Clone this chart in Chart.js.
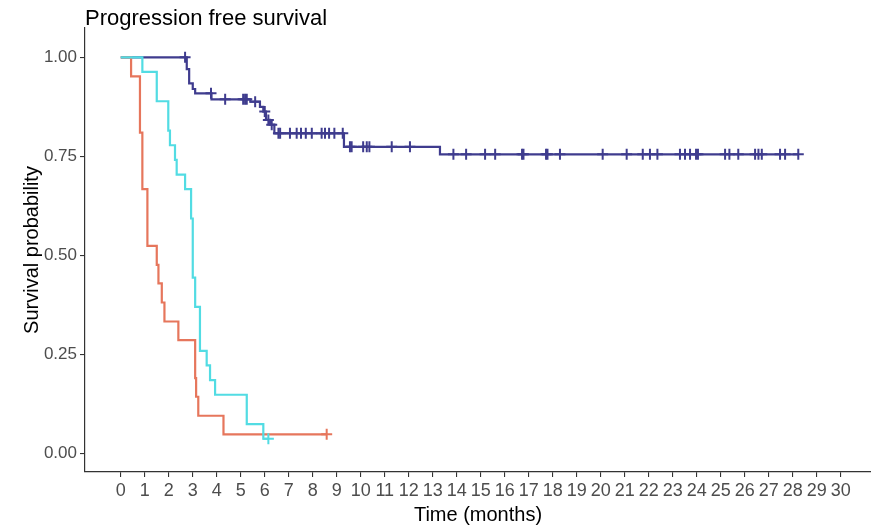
<!DOCTYPE html>
<html><head><meta charset="utf-8">
<script src="https://cdn.jsdelivr.net/npm/chart.js@4/dist/chart.umd.min.js"></script>
<style>html,body{margin:0;padding:0;background:#fff;}</style>
</head><body>
<canvas id="c" width="871" height="527"></canvas>
<script>
// ---- data ----
const xTicks = [0,1,2,3,4,5,6,7,8,9,10,11,12,13,14,15,16,17,18,19,20,21,22,23,24,25,26,27,28,29,30];
const yTicks = [0, 0.25, 0.5, 0.75, 1.0];

const navyTimes = [0, 2.75, 2.85, 3.00, 3.10, 3.78, 5.40, 5.80, 5.94, 6.05, 6.22, 6.40, 9.30, 13.30, 28.23];
const navySurv  = [1, 0.970, 0.934, 0.920, 0.909, 0.894, 0.888, 0.875, 0.863, 0.842, 0.830, 0.808, 0.774, 0.755, 0.755];
const navyCensor = [2.68, 3.76, 4.35, 5.10, 5.18, 5.25, 5.60, 6.00, 6.15, 6.29, 6.57, 6.64, 7.05, 7.33, 7.51, 7.71, 7.96,
  8.37, 8.51, 8.68, 8.90, 9.25, 9.55, 9.62, 10.10, 10.25, 10.36, 11.29, 12.05, 13.86, 14.39, 15.18, 15.60, 16.72, 16.78,
  17.72, 17.78, 18.30, 20.08, 21.08, 21.75, 22.05, 22.36, 23.30, 23.51, 23.72, 23.97, 24.05, 25.18, 25.36, 25.73,
  26.43, 26.57, 26.71, 27.47, 27.68, 28.23];

const cyanTimes = [0, 0.90, 1.50, 1.98, 2.05, 2.26, 2.33, 2.68, 2.93, 3.00, 3.10, 3.30, 3.58, 3.72, 3.93, 5.25, 5.94, 6.15];
const cyanSurv  = [1, 0.963, 0.889, 0.815, 0.778, 0.741, 0.704, 0.667, 0.593, 0.444, 0.370, 0.259, 0.222, 0.185, 0.148, 0.074, 0.037, 0.037];
const cyanCensor = [6.15];

const orangeTimes = [0, 0.43, 0.80, 0.90, 1.11, 1.50, 1.57, 1.71, 1.82, 2.40, 3.10, 3.14, 3.23, 4.28, 8.58];
const orangeSurv  = [1, 0.952, 0.810, 0.667, 0.524, 0.476, 0.429, 0.381, 0.333, 0.286, 0.190, 0.143, 0.095, 0.048, 0.048];
const orangeCensor = [8.58];

const NAVY = '#3f3c8e', CYAN = '#52dce3', ORANGE = '#e6765c';
const FONT = "'Liberation Sans', Arial, sans-serif";

function pts(ts, ss){ return ts.map((t,i)=>({x:t, y:ss[i]})); }
function survAt(ts, ss, t){ let v = ss[0]; for(let i=0;i<ts.length;i++){ if(ts[i] <= t) v = ss[i]; } return v; }
function censorPts(c, ts, ss){ return c.map(t=>({x:t, y:survAt(ts, ss, t)})); }

function curve(data, color){ return {type:'line', data, borderColor:color, backgroundColor:color, borderWidth:2.2, stepped:'before', pointRadius:0, fill:false}; }
function marks(data, color){ return {type:'scatter', data, borderColor:color, backgroundColor:color, showLine:false, pointStyle:'cross', pointRadius:5.5, borderWidth:2}; }

const titlePlugin = {
  id:'plotTitle',
  afterDraw(chart){
    const ctx = chart.ctx; ctx.save();
    ctx.font = "22px " + FONT; ctx.fillStyle = '#000'; ctx.textBaseline = 'alphabetic'; ctx.textAlign='left';
    ctx.fillText('Progression free survival', 85, 25);
    ctx.restore();
  }
};

new Chart(document.getElementById('c'), {
  data: { datasets: [
    curve(pts(cyanTimes, cyanSurv), CYAN),
    marks(censorPts(cyanCensor, cyanTimes, cyanSurv), CYAN),
    curve(pts(orangeTimes, orangeSurv), ORANGE),
    marks(censorPts(orangeCensor, orangeTimes, orangeSurv), ORANGE),
    curve(pts(navyTimes, navySurv), NAVY),
    marks(censorPts(navyCensor, navyTimes, navySurv), NAVY)
  ]},
  options: {
    responsive:false, animation:false, devicePixelRatio:1,
    layout:{autoPadding:false, padding:{top:28, right:0, left:0, bottom:0}},
    plugins:{legend:{display:false}, tooltip:{enabled:false}, title:{display:false}},
    scales:{
      x:{ type:'linear', min:-1.49, max:31.26,
        afterBuildTicks: s => { s.ticks = xTicks.map(v=>({value:v})); },
        afterFit: s => { s.height = 55; s.paddingRight = 0; s.paddingLeft = 0; },
        grid:{ display:true, drawOnChartArea:false, drawTicks:true, tickLength:5, color:'#333', lineWidth:1.1 },
        border:{ display:true, color:'#333', width:1.2 },
        ticks:{ color:'#4d4d4d', font:{family:FONT, size:18}, padding:3, maxRotation:0, autoSkip:false, callback:v=>String(v) },
        title:{ display:true, text:'Time (months)', color:'#000', font:{family:FONT, size:20}, padding:{top:0, bottom:0} }
      },
      y:{ type:'linear', min:-0.047, max:1.074,
        afterBuildTicks: s => { s.ticks = yTicks.map(v=>({value:v})); },
        afterFit: s => { s.width = 85; s.paddingTop = 0; s.paddingBottom = 0; },
        grid:{ display:true, drawOnChartArea:false, drawTicks:true, tickLength:5, color:'#333', lineWidth:1.1 },
        border:{ display:true, color:'#333', width:1.2 },
        ticks:{ color:'#4d4d4d', font:{family:FONT, size:17}, padding:3, callback:v=>Number(v).toFixed(2) },
        title:{ display:true, text:'Survival probability', color:'#000', font:{family:FONT, size:20}, padding:{top:20, bottom:0} }
      }
    }
  },
  plugins:[titlePlugin]
});
</script>
</body></html>
